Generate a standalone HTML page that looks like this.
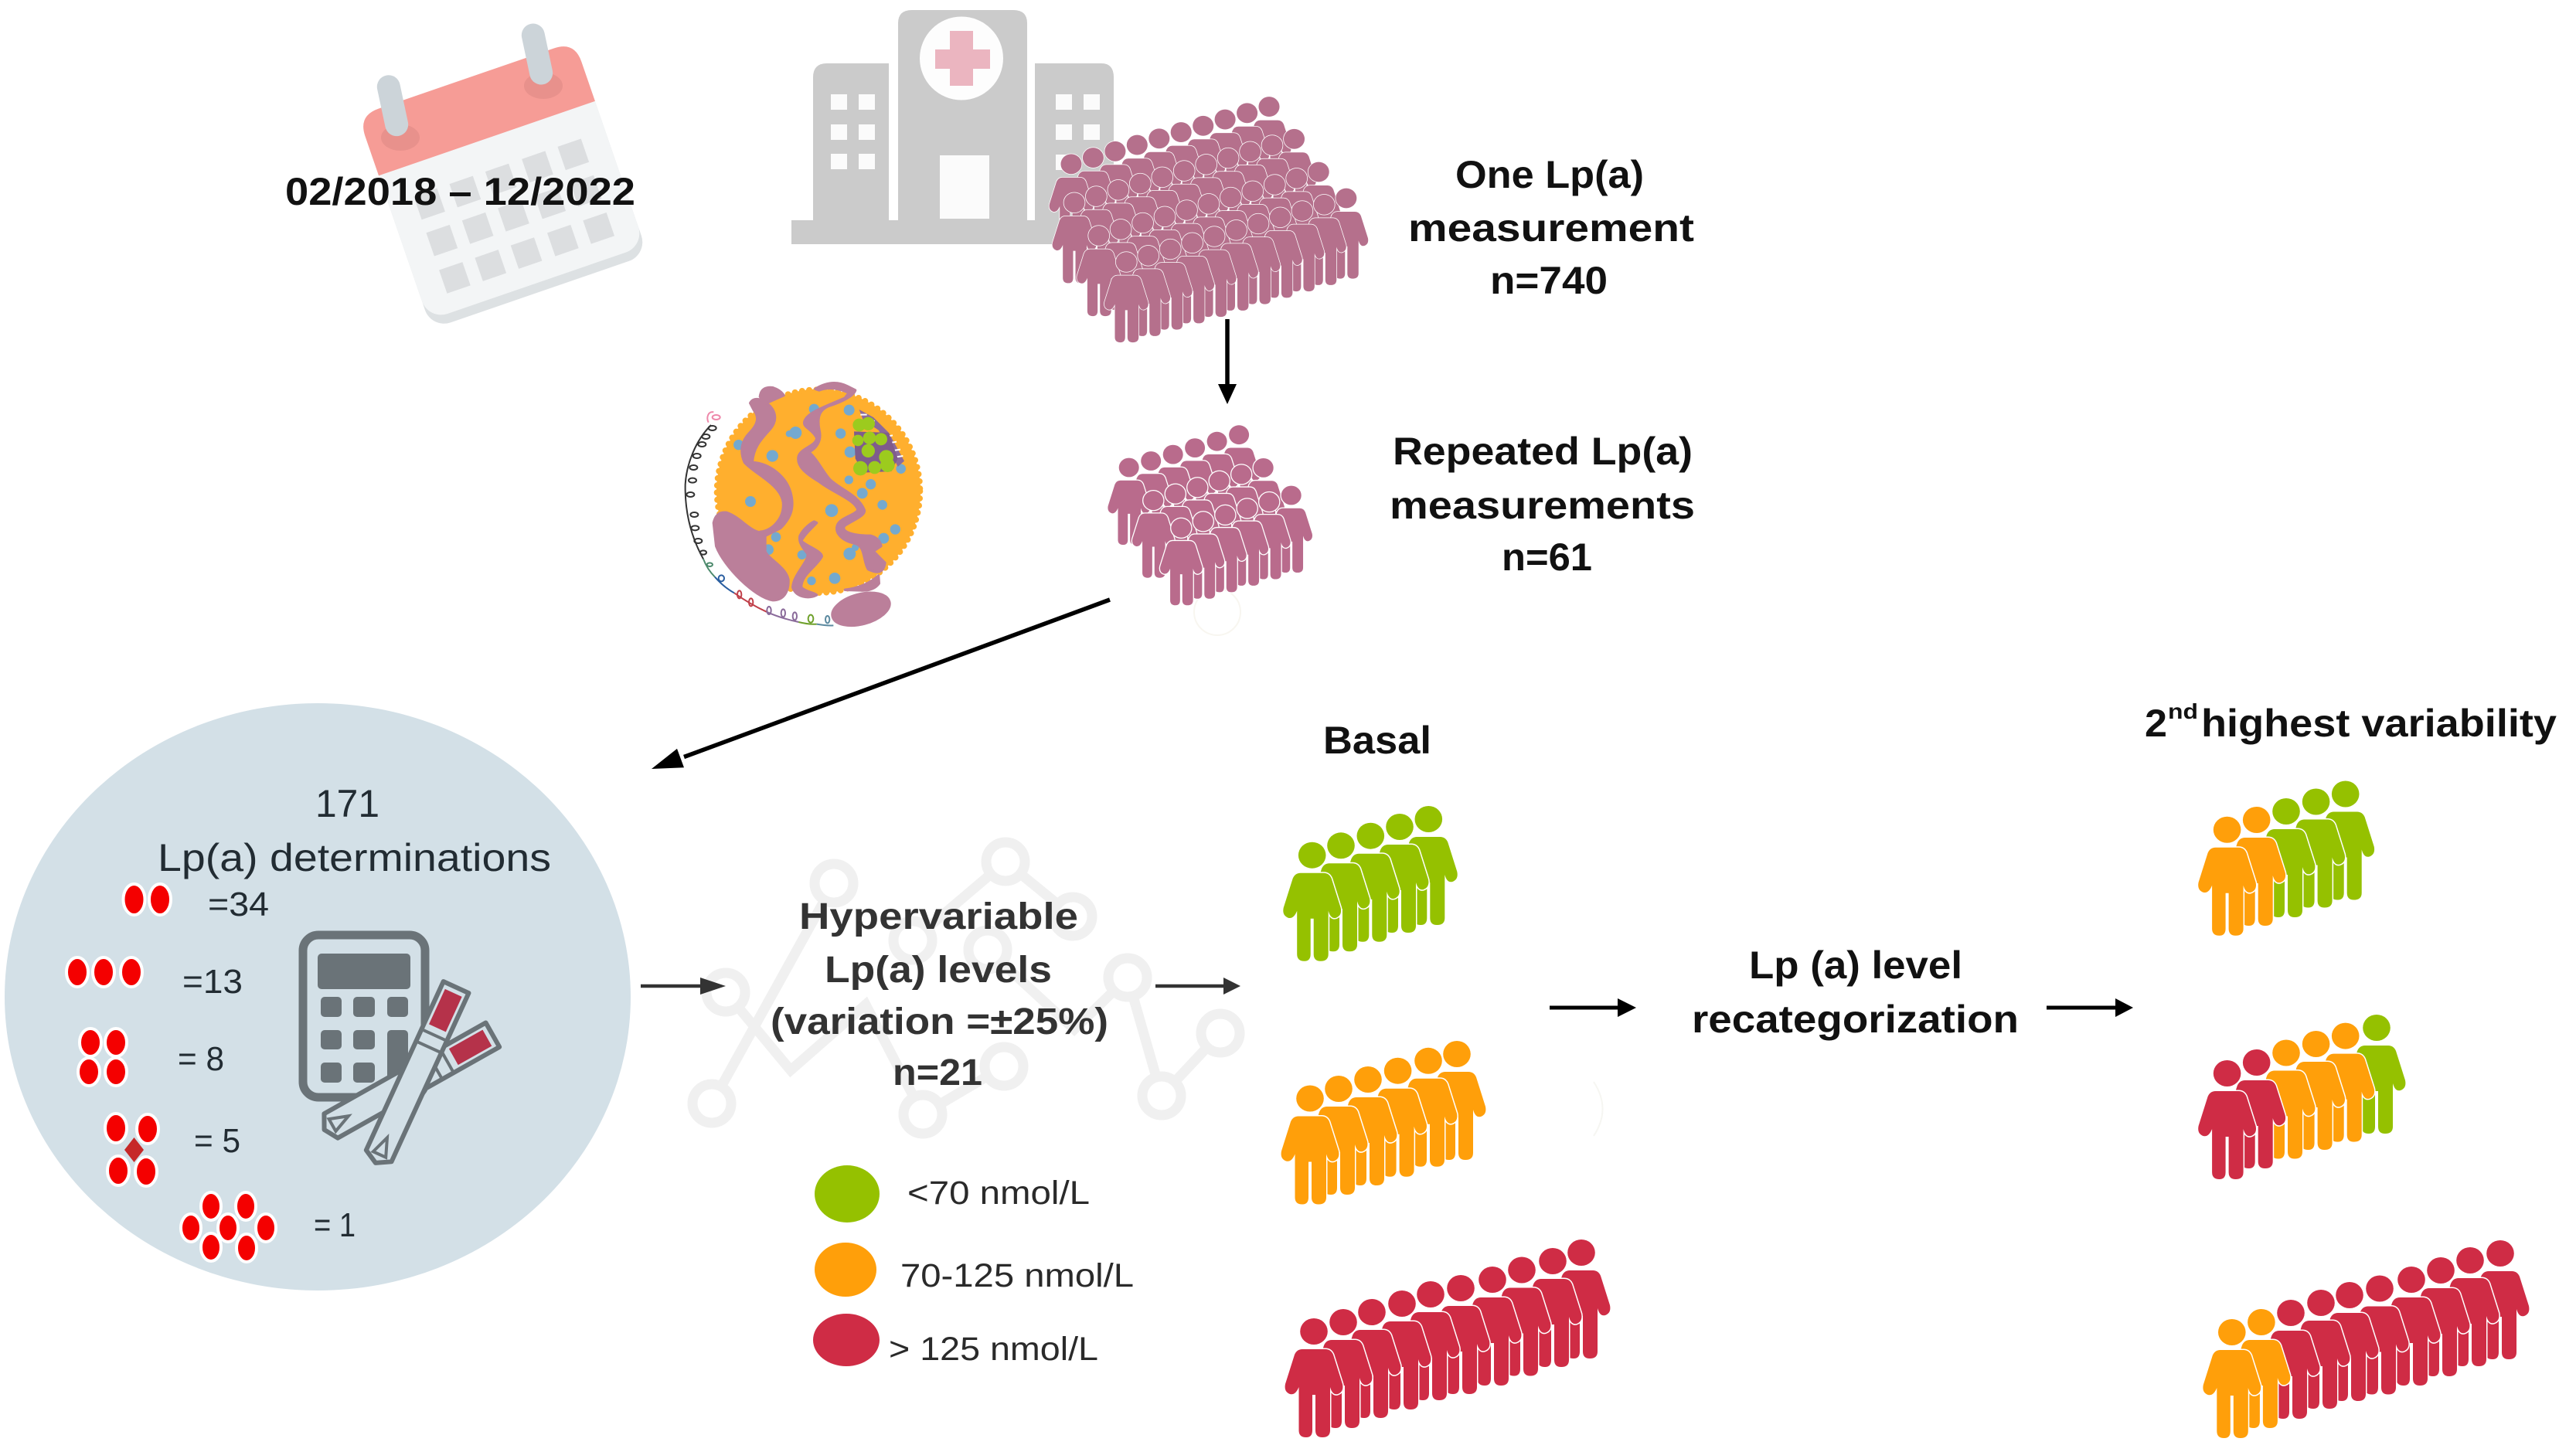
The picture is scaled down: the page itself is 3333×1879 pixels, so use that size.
<!DOCTYPE html>
<html lang="en"><head><meta charset="utf-8"><title>Lp(a) variability study diagram</title>
<style>html,body{margin:0;padding:0;background:#fff}svg{display:block}
text{font-family:"Liberation Sans",sans-serif}
.b{font-weight:bold;font-size:50px;fill:#111}.h{font-weight:bold;font-size:48px;fill:#333}
.r{font-size:50px;fill:#222c33}.s{font-size:44px;fill:#222c33}.l{font-size:43px;fill:#2a2a2a}</style></head>
<body>
<svg xmlns="http://www.w3.org/2000/svg" width="3333" height="1879" viewBox="0 0 3333 1879">
<defs>
<g id="p" stroke="#fff" paint-order="stroke">
<ellipse cx="0" cy="0" rx="17.8" ry="17"/>
<path d="M-15,23H15Q22,23 25,30L37,68Q39,78 31,81Q24,83 21,72V128Q21,137 11,137Q2,137 2,128V82H-2V128Q-2,137 -10,137Q-19.5,137 -19.5,128V72Q-24,83 -31,81Q-39,78 -37,68L-25,30Q-22,23 -15,23Z"/>
</g>
<g id="c"><use href="#p" transform="scale(.76)"/></g>
<g id="c2"><use href="#p" transform="scale(.73)"/></g>
<g id="r10">
<use href="#c" x="256" y="-74.2"/><use href="#c" x="227.6" y="-66"/><use href="#c" x="199.1" y="-57.7"/><use href="#c" x="170.7" y="-49.5"/><use href="#c" x="142.2" y="-41.2"/><use href="#c" x="113.8" y="-33"/><use href="#c" x="85.3" y="-24.7"/><use href="#c" x="56.9" y="-16.5"/><use href="#c" x="28.4" y="-8.2"/><use href="#c" x="0" y="0"/>
</g>
<g id="r11"><use href="#c" x="284.5" y="-82.5"/><use href="#r10"/></g>
<g id="r6"><use href="#c2" x="142.4" y="-42.3"/><use href="#c2" x="113.9" y="-33.8"/><use href="#c2" x="85.4" y="-25.4"/><use href="#c2" x="57" y="-16.9"/><use href="#c2" x="28.5" y="-8.5"/><use href="#c2" x="0" y="0"/></g>
</defs>
<rect width="3333" height="1879" fill="#fff"/>

<!-- calendar -->
<g transform="translate(650.8,239.6) rotate(-19)">
<rect x="-148" y="-120" width="296" height="266" rx="26" fill="#dde1e3"/>
<rect x="-148" y="-146" width="296" height="280" rx="26" fill="#f3f5f6"/>
<path d="M-148,-118Q-148,-146 -120,-146H120Q148,-146 148,-118V-64H-148Z" fill="#f69c96"/>
<g fill="#dcdee0">
<rect x="83" y="-24" width="32" height="32"/><rect x="34" y="-24" width="32" height="32"/><rect x="-16" y="-24" width="32" height="32"/><rect x="-65" y="-24" width="32" height="32"/><rect x="-114" y="-24" width="32" height="32"/>
<rect x="83" y="26" width="32" height="32"/><rect x="34" y="26" width="32" height="32"/><rect x="-16" y="26" width="32" height="32"/><rect x="-65" y="26" width="32" height="32"/><rect x="-114" y="26" width="32" height="32"/>
<rect x="83" y="77" width="32" height="32"/><rect x="34" y="77" width="32" height="32"/><rect x="-16" y="77" width="32" height="32"/><rect x="-65" y="77" width="32" height="32"/><rect x="-114" y="77" width="32" height="32"/>
</g></g>
<ellipse cx="518" cy="178" rx="25" ry="17" fill="#e8918c"/><ellipse cx="703" cy="111" rx="25" ry="17" fill="#e8918c"/>
<rect x="493" y="96.7" width="30" height="80" rx="15" fill="#ccd4d9" transform="rotate(-12 508 136.7)"/>
<rect x="680" y="30" width="30" height="80" rx="15" fill="#ccd4d9" transform="rotate(-12 695 70)"/>
<text x="369" y="265" font-weight="bold" font-size="50" fill="#111" textLength="453" lengthAdjust="spacingAndGlyphs">02/2018 – 12/2022</text>

<!-- hospital -->
<g fill="#cbcbcb">
<path d="M1162,30Q1162,13 1180,13H1311Q1329,13 1329,30V290H1162Z"/>
<path d="M1052,100Q1052,82 1070,82H1150V290H1052Z"/>
<path d="M1339,82H1425Q1441,82 1441,100V290H1339Z"/>
<rect x="1024" y="285" width="436" height="31"/>
</g>
<circle cx="1244" cy="75.5" r="54" fill="#fdfdfd"/>
<path d="M1229,40h30v24h22v25h-22v22h-30v-22h-19v-25h19z" fill="#ebb5c0"/>
<rect x="1216" y="201" width="64" height="82" fill="#fbfbfb"/>
<g fill="#fbfbfb">
<rect x="1075" y="122" width="21" height="20"/><rect x="1111" y="122" width="21" height="20"/><rect x="1075" y="161" width="21" height="20"/><rect x="1111" y="161" width="21" height="20"/><rect x="1075" y="199" width="21" height="20"/><rect x="1111" y="199" width="21" height="20"/>
<rect x="1366" y="122" width="21" height="20"/><rect x="1402" y="122" width="21" height="20"/><rect x="1366" y="161" width="21" height="20"/><rect x="1402" y="161" width="21" height="20"/><rect x="1366" y="200" width="21" height="20"/>
</g>

<!-- crowd 740 -->
<g fill="#b5708c" stroke-width="2">
<use href="#r10" x="1386" y="212.3"/>
<use href="#r11" x="1390" y="262.3"/>
<use href="#r11" x="1421.7" y="305"/>
<use href="#r11" x="1457.3" y="339"/>
</g>
<!-- crowd 61 -->
<circle cx="1575" cy="792" r="30" fill="none" stroke="#f8f6f0" stroke-width="2"/>
<g fill="#b96b8c" stroke-width="3.5">
<use href="#r6" x="1460.7" y="605"/>
<use href="#r6" x="1492.3" y="647.7"/>
<use href="#r6" x="1528.3" y="683.3"/>
</g>

<!-- top labels -->
<text class="b" x="1883" y="243" textLength="244" lengthAdjust="spacingAndGlyphs">One Lp(a)</text>
<text class="b" x="1822" y="312" textLength="370" lengthAdjust="spacingAndGlyphs">measurement</text>
<text class="b" x="1928" y="380" textLength="152" lengthAdjust="spacingAndGlyphs">n=740</text>
<text class="b" x="1802" y="601" textLength="388" lengthAdjust="spacingAndGlyphs">Repeated Lp(a)</text>
<text class="b" x="1798" y="671" textLength="395" lengthAdjust="spacingAndGlyphs">measurements</text>
<text class="b" x="1943" y="738" textLength="117" lengthAdjust="spacingAndGlyphs">n=61</text>

<!-- network background -->
<g fill="none" stroke="#f0f0f0" stroke-width="13">
<path d="M921,1428L1079,1143M939,1284L1023,1385L1120,1300L1194,1442L1299,1380M1301,1115L1181,1217M1301,1115L1388,1186M1278,1229L1390,1332L1459,1265M1459,1265L1503,1418L1579,1337"/>
<circle cx="939" cy="1284" r="25" fill="#fff"/><circle cx="1079" cy="1143" r="25" fill="#fff"/><circle cx="1301" cy="1115" r="25" fill="#fff"/><circle cx="1388" cy="1186" r="25" fill="#fff"/><circle cx="1181" cy="1217" r="25" fill="#fff"/><circle cx="1278" cy="1229" r="25" fill="#fff"/><circle cx="1459" cy="1265" r="25" fill="#fff"/><circle cx="1579" cy="1337" r="25" fill="#fff"/><circle cx="1503" cy="1418" r="25" fill="#fff"/><circle cx="1194" cy="1442" r="25" fill="#fff"/><circle cx="1299" cy="1380" r="25" fill="#fff"/><circle cx="921" cy="1428" r="25" fill="#fff"/>
</g>

<!-- arrows -->
<line x1="1588" y1="413" x2="1588" y2="505" stroke="#000" stroke-width="5.5"/>
<polygon points="1576,497 1600,497 1588,523" fill="#000"/>
<line x1="1436" y1="776" x2="885" y2="979.5" stroke="#000" stroke-width="5.5"/>
<polygon points="843,995 885,993.3 876,968.9" fill="#000"/>
<line x1="829" y1="1276" x2="915" y2="1276" stroke="#333" stroke-width="4.5"/>
<polygon points="906,1265 939,1276 906,1287" fill="#333"/>
<line x1="1495" y1="1276" x2="1590" y2="1276" stroke="#333" stroke-width="4.5"/>
<polygon points="1583,1265 1605,1276 1583,1287" fill="#333"/>
<line x1="2005" y1="1304" x2="2100" y2="1304" stroke="#000" stroke-width="5"/>
<polygon points="2093,1292 2117,1304 2093,1316" fill="#000"/>
<line x1="2648" y1="1304" x2="2745" y2="1304" stroke="#000" stroke-width="5"/>
<polygon points="2737,1292 2760,1304 2737,1316" fill="#000"/>

<!-- Lp(a) particle -->
<g transform="translate(860,480) scale(.33333)">
<circle cx="597" cy="467" r="396" fill="#ffaf2e"/>
<circle cx="597" cy="467" r="394" fill="none" stroke="#ffaf2e" stroke-width="24" stroke-linecap="round" stroke-dasharray="0 28"/>
<g fill="#74a9cf">
<circle cx="287" cy="287" r="20"/><circle cx="418" cy="330" r="23"/><circle cx="333" cy="507" r="21"/><circle cx="648" cy="542" r="25"/><circle cx="716" cy="152" r="21"/><circle cx="580" cy="148" r="20"/><circle cx="767" cy="475" r="21"/><circle cx="850" cy="650" r="21"/><circle cx="432" cy="645" r="19"/><circle cx="402" cy="694" r="21"/><circle cx="533" cy="714" r="18"/><circle cx="718" cy="710" r="24"/><circle cx="508" cy="240" r="24"/><circle cx="483" cy="244" r="13"/><circle cx="845" cy="520" r="19"/><circle cx="895" cy="615" r="20"/><circle cx="800" cy="440" r="20"/><circle cx="715" cy="423" r="17"/><circle cx="720" cy="315" r="22"/><circle cx="683" cy="243" r="20"/><circle cx="660" cy="805" r="22"/><circle cx="570" cy="815" r="17"/><circle cx="917" cy="380" r="19"/><circle cx="740" cy="685" r="14"/>
</g>
<g fill="#bb7f9a" stroke="#bb7f9a" stroke-width="10" stroke-linejoin="round">
<path d="M190,590Q200,545 240,550C300,570 330,630 390,630L390,700C400,730 470,760 480,810C482,860 460,890 420,890C350,880 230,760 200,680Z"/>
<path d="M332,125C345,100 380,110 395,125C430,150 440,190 410,225C380,260 345,290 340,355C410,360 470,410 488,470C505,530 490,570 450,610L390,640L370,625C420,620 465,570 460,510C450,440 350,400 310,355C290,310 300,270 330,240C360,210 370,180 345,150Z"/>
<path d="M370,100Q375,60 420,65Q450,75 462,95L395,125Q380,115 370,100Z"/>
<path d="M585,70Q650,30 710,60L740,75C735,95 690,120 640,135C600,150 590,180 600,230C610,270 590,300 560,315C590,340 620,400 640,420C680,460 750,480 775,540C780,560 740,575 700,600C680,620 720,640 800,640Q835,650 840,680L810,700L855,745C850,780 830,790 790,770C770,740 780,680 740,670C690,660 660,630 670,600C680,570 740,560 750,540C740,500 650,470 600,430C550,400 510,370 520,330C530,300 590,290 590,260C570,220 530,220 545,190C560,160 620,140 700,105L715,85Q650,55 600,75Z"/>
<path d="M700,850Q780,840 830,795L832,825Q810,855 760,852Z"/>
<path d="M590,590C560,620 540,640 530,660C550,680 610,700 610,720C590,760 530,790 530,840C550,860 580,860 590,870C560,885 510,880 497,840C500,790 560,740 555,710C530,680 520,660 525,640C540,610 570,590 580,585Z"/>
<ellipse cx="762" cy="925" rx="114" ry="58" transform="rotate(-15 762 925)"/>
</g>
<path d="M755,150L810,180L870,240L930,350L905,372L870,300L830,230L770,190Z" fill="#8b6a9c"/>
<path d="M760,170l25,0M790,190l25,5M860,255l25,-5M870,280l30,-5M880,310l35,-5M895,335l30,-5" stroke="#fff" stroke-width="6" fill="none"/>
<polygon points="735,235 870,240 905,340 880,390 770,395 740,340" fill="#7f5c8c"/>
<g fill="#9ccb1e">
<circle cx="755" cy="210" r="25"/><circle cx="790" cy="205" r="26"/><circle cx="750" cy="270" r="22"/><circle cx="795" cy="260" r="25"/><circle cx="840" cy="265" r="24"/><circle cx="790" cy="310" r="26"/><circle cx="860" cy="335" r="28"/><circle cx="760" cy="378" r="28"/><circle cx="815" cy="375" r="25"/><circle cx="865" cy="365" r="28"/>
</g>
<g fill="none" stroke-width="6">
<path stroke="#ee88aa" d="M170,200C160,180 170,155 190,160"/><ellipse cx="200" cy="180" rx="15" ry="9" stroke="#ee88aa"/>
<path stroke="#333" d="M180,210C120,270 85,360 80,440C78,540 100,640 150,730"/>
<g stroke="#333">
<ellipse cx="185" cy="222" rx="15" ry="9"/><ellipse cx="160" cy="255" rx="15" ry="9"/><ellipse cx="145" cy="285" rx="15" ry="9"/><ellipse cx="125" cy="330" rx="15" ry="9"/><ellipse cx="112" cy="375" rx="15" ry="9"/><ellipse cx="108" cy="425" rx="15" ry="9"/><ellipse cx="100" cy="480" rx="15" ry="9"/><ellipse cx="115" cy="558" rx="15" ry="9"/><ellipse cx="118" cy="610" rx="15" ry="9"/><ellipse cx="130" cy="660" rx="15" ry="9"/><ellipse cx="150" cy="705" rx="12" ry="8"/>
</g>
<path stroke="#4c8a6c" d="M150,730Q165,770 195,800"/><ellipse cx="175" cy="752" rx="11" ry="7" stroke="#4c8a6c"/>
<path stroke="#2a5ea0" d="M195,800Q230,840 270,862"/><ellipse cx="220" cy="805" rx="11" ry="12" stroke="#2a5ea0"/>
<path stroke="#c0404a" d="M270,862Q330,905 395,935"/><ellipse cx="290" cy="868" rx="8" ry="15" stroke="#c0404a"/><ellipse cx="335" cy="898" rx="8" ry="15" stroke="#c0404a"/>
<path stroke="#8a6a9a" d="M395,935Q450,960 520,975"/><ellipse cx="405" cy="930" rx="8" ry="15" stroke="#8a6a9a"/><ellipse cx="460" cy="940" rx="8" ry="15" stroke="#8a6a9a"/><ellipse cx="505" cy="952" rx="8" ry="15" stroke="#8a6a9a"/>
<path stroke="#6ea02a" d="M520,975Q560,985 590,983"/><ellipse cx="567" cy="962" rx="10" ry="15" stroke="#6ea02a"/>
<path stroke="#5c8aa0" d="M590,983Q630,990 655,988"/><ellipse cx="632" cy="965" rx="8" ry="14" stroke="#5c8aa0"/>
</g>
</g>

<!-- big circle -->
<ellipse cx="411" cy="1290" rx="405" ry="380" fill="#d3e0e7"/>
<text class="r" x="408" y="1057" textLength="83" lengthAdjust="spacingAndGlyphs">171</text>
<text class="r" x="204" y="1127" textLength="509" lengthAdjust="spacingAndGlyphs">Lp(a) determinations</text>
<text class="s" x="269" y="1185" textLength="79" lengthAdjust="spacingAndGlyphs">=34</text>
<text class="s" x="236" y="1285" textLength="78" lengthAdjust="spacingAndGlyphs">=13</text>
<text class="s" x="230" y="1385" textLength="60" lengthAdjust="spacingAndGlyphs">= 8</text>
<text class="s" x="251" y="1491" textLength="60" lengthAdjust="spacingAndGlyphs">= 5</text>
<text class="s" x="406" y="1600" textLength="54" lengthAdjust="spacingAndGlyphs">= 1</text>
<g fill="#f40000" stroke="#fff" stroke-width="4">
<ellipse cx="173.5" cy="1164" rx="14" ry="20"/><ellipse cx="207" cy="1164" rx="14" ry="20"/>
<ellipse cx="100" cy="1258" rx="14" ry="19"/><ellipse cx="134" cy="1258" rx="14" ry="19"/><ellipse cx="170" cy="1258" rx="14" ry="19"/>
<ellipse cx="117" cy="1349" rx="14" ry="18"/><ellipse cx="150" cy="1349" rx="14" ry="18"/><ellipse cx="115" cy="1387" rx="14" ry="18"/><ellipse cx="150" cy="1387" rx="14" ry="18"/>
<ellipse cx="150" cy="1460" rx="14" ry="19"/><ellipse cx="191" cy="1461" rx="14" ry="19"/><ellipse cx="153" cy="1515" rx="14" ry="19"/><ellipse cx="189" cy="1516" rx="14" ry="19"/>
<ellipse cx="273" cy="1561" rx="13" ry="18"/><ellipse cx="318" cy="1561" rx="13" ry="18"/><ellipse cx="247" cy="1589" rx="13" ry="18"/><ellipse cx="295" cy="1589" rx="13" ry="18"/><ellipse cx="344" cy="1589" rx="13" ry="18"/><ellipse cx="273" cy="1614" rx="13" ry="18"/><ellipse cx="319" cy="1615" rx="13" ry="18"/>
</g>
<polygon points="173.5,1472 186,1488 173.5,1504 161,1488" fill="#c62828"/>

<!-- calculator -->
<rect x="392" y="1210" width="158" height="210" rx="20" fill="#d3e0e7" stroke="#6a7378" stroke-width="11"/>
<rect x="411" y="1234" width="120" height="46" rx="5" fill="#6a7378"/>
<g fill="#6a7378">
<rect x="415" y="1290" width="27" height="26" rx="5"/><rect x="457" y="1290" width="28" height="26" rx="5"/><rect x="501" y="1290" width="27" height="26" rx="5"/>
<rect x="415" y="1333" width="27" height="25" rx="5"/><rect x="457" y="1333" width="28" height="25" rx="5"/><rect x="501" y="1333" width="27" height="68" rx="5"/>
<rect x="415" y="1375" width="27" height="26" rx="5"/><rect x="457" y="1375" width="28" height="26" rx="5"/>
</g>
<g transform="translate(430,1456) rotate(60.6)">
<path d="M-18,-238H18V2L0,12L-18,2Z" fill="#d3e0e7" stroke="#6a7378" stroke-width="6" stroke-linejoin="round"/>
<path d="M-9,0L0,-24L9,0Z" fill="none" stroke="#6a7378" stroke-width="4"/>
<rect x="-12" y="-230" width="24" height="50" fill="#b5324a"/><rect x="-18" y="-172" width="36" height="4" fill="#6a7378"/><rect x="-18" y="-155" width="36" height="4" fill="#6a7378"/>
</g>
<g transform="translate(491,1494) rotate(24.6)">
<path d="M-18,-238H18V2L0,12L-18,2Z" fill="#d3e0e7" stroke="#6a7378" stroke-width="6" stroke-linejoin="round"/>
<path d="M-9,0L0,-24L9,0Z" fill="none" stroke="#6a7378" stroke-width="4"/>
<rect x="-12" y="-230" width="24" height="50" fill="#b5324a"/><rect x="-18" y="-172" width="36" height="4" fill="#6a7378"/><rect x="-18" y="-155" width="36" height="4" fill="#6a7378"/>
</g>

<text class="h" x="1034" y="1202" textLength="361" lengthAdjust="spacingAndGlyphs">Hypervariable</text>
<text class="h" x="1067" y="1271" textLength="294" lengthAdjust="spacingAndGlyphs">Lp(a) levels</text>
<text class="h" x="997" y="1338" textLength="437" lengthAdjust="spacingAndGlyphs">(variation =±25%)</text>
<text class="h" x="1155" y="1404" textLength="116" lengthAdjust="spacingAndGlyphs">n=21</text>

<!-- legend -->
<ellipse cx="1096" cy="1545" rx="42" ry="37" fill="#95c100"/>
<ellipse cx="1094" cy="1643" rx="40" ry="35" fill="#ff9f0a"/>
<ellipse cx="1095" cy="1734" rx="43" ry="34" fill="#cf2c45"/>
<text class="l" x="1174" y="1558" textLength="236" lengthAdjust="spacingAndGlyphs">&lt;70 nmol/L</text>
<text class="l" x="1165" y="1665" textLength="302" lengthAdjust="spacingAndGlyphs">70-125 nmol/L</text>
<text class="l" x="1150" y="1760" textLength="271" lengthAdjust="spacingAndGlyphs">&gt; 125 nmol/L</text>

<!-- basal groups -->
<text class="b" x="1712" y="975" textLength="140" lengthAdjust="spacingAndGlyphs">Basal</text>
<g stroke-width="3">
<g fill="#95c100">
<use href="#p" x="1848.3" y="1060"/><use href="#p" x="1811" y="1070"/><use href="#p" x="1773.3" y="1081.7"/><use href="#p" x="1735" y="1094.3"/><use href="#p" x="1697.7" y="1106.7"/>
</g>
<g fill="#ff9f0a">
<use href="#p" x="1885" y="1364"/><use href="#p" x="1848" y="1372.8"/><use href="#p" x="1808.6" y="1385.7"/><use href="#p" x="1770" y="1397"/><use href="#p" x="1732" y="1409"/><use href="#p" x="1695" y="1421.5"/>
</g>
<g fill="#cf2c45">
<use href="#p" x="2046" y="1621"/><use href="#p" x="2009" y="1632"/><use href="#p" x="1969" y="1643.5"/><use href="#p" x="1931" y="1656"/><use href="#p" x="1890" y="1667"/><use href="#p" x="1851" y="1675"/><use href="#p" x="1814" y="1687"/><use href="#p" x="1775" y="1698"/><use href="#p" x="1738" y="1711"/><use href="#p" x="1700" y="1723"/>
</g>
</g>

<!-- recategorization -->
<text class="b" x="2263" y="1266" textLength="276" lengthAdjust="spacingAndGlyphs">Lp (a) level</text>
<text class="b" x="2189" y="1336" textLength="423" lengthAdjust="spacingAndGlyphs">recategorization</text>
<path d="M2062,1400Q2085,1435 2062,1470" fill="none" stroke="#f6f6f2" stroke-width="2"/>

<!-- right groups -->
<text class="b" x="2775" y="953" textLength="29" lengthAdjust="spacingAndGlyphs">2</text>
<text x="2805" y="930" font-weight="bold" font-size="28" fill="#111" textLength="39" lengthAdjust="spacingAndGlyphs">nd</text>
<text class="b" x="2848" y="953" textLength="460" lengthAdjust="spacingAndGlyphs">highest variability</text>
<g stroke-width="3">
<use href="#p" fill="#95c100" x="3034.7" y="1027.5"/><use href="#p" fill="#95c100" x="2996.6" y="1037.5"/><use href="#p" fill="#95c100" x="2958" y="1050"/><use href="#p" fill="#ff9f0a" x="2919.7" y="1061"/><use href="#p" fill="#ff9f0a" x="2881.6" y="1073.75"/>
<use href="#p" fill="#95c100" x="3075" y="1330"/><use href="#p" fill="#ff9f0a" x="3034.7" y="1340.6"/><use href="#p" fill="#ff9f0a" x="2996.6" y="1351"/><use href="#p" fill="#ff9f0a" x="2958" y="1362.5"/><use href="#p" fill="#cf2c45" x="2919.7" y="1375"/><use href="#p" fill="#cf2c45" x="2881.6" y="1389"/>
<g fill="#cf2c45">
<use href="#p" x="3235" y="1622"/><use href="#p" x="3196" y="1631"/><use href="#p" x="3158" y="1644"/><use href="#p" x="3120" y="1656"/><use href="#p" x="3079" y="1667.5"/><use href="#p" x="3040" y="1676"/><use href="#p" x="3003" y="1686"/><use href="#p" x="2964" y="1699"/>
</g>
<use href="#p" fill="#ff9f0a" x="2925.9" y="1711"/><use href="#p" fill="#ff9f0a" x="2887.8" y="1724"/>
</g>
</svg>
</body></html>
